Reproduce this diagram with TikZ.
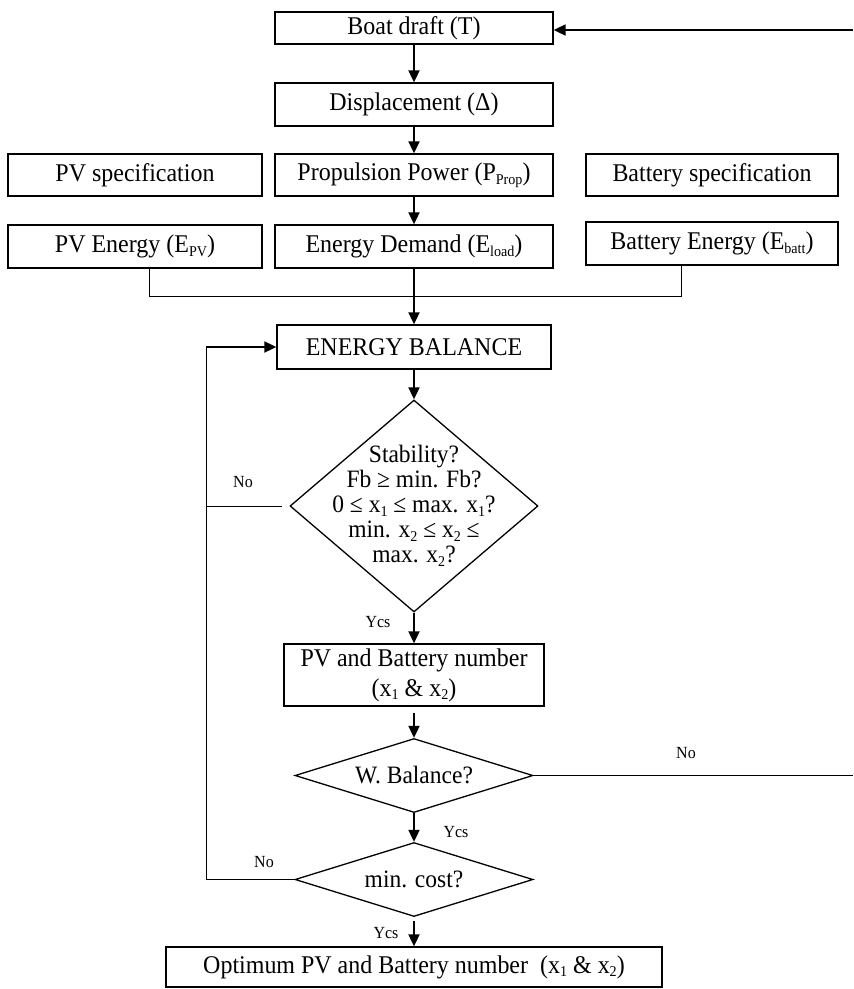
\documentclass[tikz,border=0pt]{standalone}
\usepackage{fontspec}
\setmainfont{Liberation Serif}[FakeStretch=0.94]
\usetikzlibrary{shapes.geometric,arrows.meta}
\newcommand\subx[1]{\raisebox{-0.3ex}{\fontsize{15}{15}\selectfont #1}}
\begin{document}
\begin{tikzpicture}[x=1pt,y=-1pt,
  box/.style={draw, line width=1.3pt, inner sep=0pt, font=\fontsize{25.5}{26}\selectfont, align=center},
  dia/.style={draw, diamond, line width=1.3pt, inner sep=0pt},
  txt/.style={font=\fontsize{25}{25}\selectfont, align=center, inner sep=0pt},
  lbl/.style={font=\fontsize{17}{18}\selectfont, inner sep=0pt},
  arr/.style={line width=1.8pt, -{Triangle[length=12pt,width=11pt]}},
  thinl/.style={line width=0.9pt}]
\useasboundingbox (0,0) rectangle (854,989);

\node[box, minimum width=278pt, minimum height=32pt] (boat) at (414,28) {Boat draft (T)};
\node[box, minimum width=278pt, minimum height=43pt] (disp) at (414,104.5) {Displacement (Δ)};
\node[box, minimum width=254pt, minimum height=42pt] (pvspec) at (135,175) {PV specification};
\node[box, minimum width=278pt, minimum height=42pt] (prop) at (414,175) {Propulsion Power (P\subx{Prop})};
\node[box, minimum width=252pt, minimum height=42pt] (battspec) at (712,175) {Battery specification};
\node[box, minimum width=254pt, minimum height=43pt] (pven) at (135,246.5) {PV Energy (E\subx{PV})};
\node[box, minimum width=278pt, minimum height=43pt] (demand) at (414,246.5) {Energy Demand (E\subx{load})};
\node[box, minimum width=252pt, minimum height=43pt] (batten) at (712,243.5) {Battery Energy (E\subx{batt})};
\node[box, minimum width=274pt, minimum height=44pt] (ebal) at (414,347) {ENERGY BALANCE};

\node[dia, minimum width=248pt, minimum height=212pt] (stab) at (414,506) {};
\node[txt] (stabt) at (414,506) {Stability?\\Fb ≥ min. Fb?\\0 ≤ x\subx{1} ≤ max. x\subx{1}?\\min. x\subx{2} ≤ x\subx{2} ≤\\max. x\subx{2}?};

\node[box, minimum width=260pt, minimum height=62pt] (pvb) at (414,675) {PV and Battery number\\[4pt](x\subx{1} \& x\subx{2})};

\node[dia, minimum width=238pt, minimum height=74pt] (wbal) at (414,775.5) {};
\node[txt] (wbalt) at (414,775.5) {W. Balance?};
\node[dia, minimum width=238pt, minimum height=74pt] (cost) at (414,879.5) {};
\node[txt] (costt) at (414,879.5) {min. cost?};

\node[box, minimum width=496pt, minimum height=40pt] (opt) at (414,967) {Optimum PV and Battery number\ \ (x\subx{1} \& x\subx{2})};

% labels
\node[lbl] (no1) at (243,482) {No};
\node[lbl] (yes1) at (378,622) {Ycs};
\node[lbl] (no2) at (686,753) {No};
\node[lbl] (yes2) at (456,832) {Ycs};
\node[lbl] (no3) at (264,862) {No};
\node[lbl] (yes3) at (386,933) {Ycs};

% coordinates
\coordinate (rin) at (853,30);
\coordinate (rout) at (853,775.5);
\coordinate (j1) at (149,296);
\coordinate (j2) at (681,296);
\coordinate (lb) at (206,879.5);
\coordinate (lt) at (206,347);
\coordinate (ls) at (206,506);

% connectors
\draw[arr] (rin) -- (rin -| boat.east);
\draw[arr] (boat.south) -- (disp.north);
\draw[arr] (disp.south) -- (prop.north);
\draw[arr] (prop.south) -- (demand.north);
\draw[thinl] (pven.south -| j1) -- (j1) -- (j2) -- (batten.south -| j2);
\draw[arr] (demand.south) -- (ebal.north);
\draw[arr] (ebal.south) -- (stab.north);
\draw[arr] (stab.south) -- (pvb.north);
\draw[arr, shorten <=6pt] (pvb.south) -- (wbal.north);
\draw[thinl] (wbal.east) -- (rout);
\draw[arr] (wbal.south) -- (cost.north);
\draw[thinl] (cost.west) -- (lb) -- (lt);
\draw[arr] (lt) -- (ebal.west);
\draw[thinl, shorten <=7pt] (stab.west) -- (ls);
\draw[arr, shorten <=4pt] (cost.south) -- (opt.north);
\end{tikzpicture}
\end{document}
